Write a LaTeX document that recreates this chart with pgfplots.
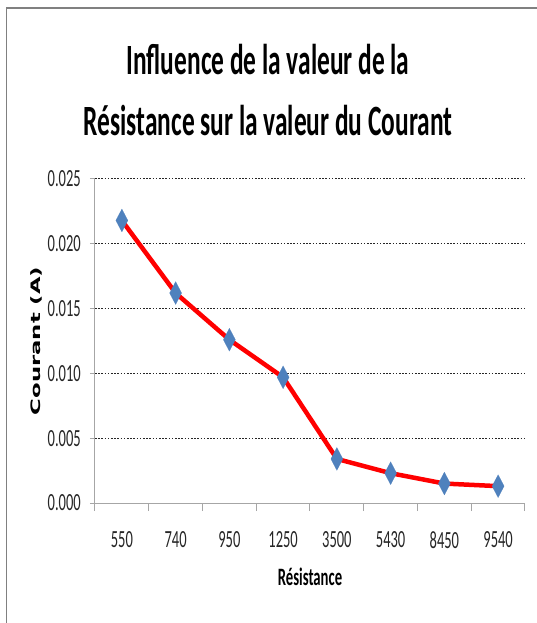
\documentclass[border=0pt]{standalone}
\usepackage{fontspec}
\setmainfont{Carlito}
\newfontfamily\dejavu{DejaVu Sans}
\usepackage{pgfplots}
\pgfplotsset{compat=1.18}
\definecolor{markblue}{HTML}{4F81BD}
\definecolor{axisgray}{HTML}{A6A6A6}
\definecolor{framegray}{HTML}{808080}
\begin{document}
\begin{tikzpicture}
\useasboundingbox (-95pt,-120pt) rectangle (441pt,503pt);
\draw[framegray, line width=1.5pt] (-88.5pt,-121pt) -- (-88.5pt,495pt) -- (442pt,495pt);
\begin{axis}[
  at={(0pt,0pt)}, anchor=south west,
  scale only axis, width=430pt, height=324pt,
  xmin=-0.5, xmax=7.5, ymin=0, ymax=0.025,
  axis lines=left,
  axis line style={-, draw=axisgray, line width=1pt},
  xtick={0,...,7},
  xticklabels={550,740,950,1250,3500,5430,8450,9540},
  minor xtick={-0.5,0.5,1.5,2.5,3.5,4.5,5.5,6.5,7.5},
  major x tick style={draw=none},
  minor x tick style={draw=axisgray, line width=1pt},
  minor tick length=8pt,
  major tick length=5pt,
  tick align=outside,
  ytick={0,0.005,0.01,0.015,0.02,0.025},
  ytick style={draw=axisgray, line width=1pt},
  ymajorgrids,
  grid style={black!85, line width=1pt, dash pattern=on 1.6pt off 1.6pt},
  scaled y ticks=false,
  /pgf/number format/fixed,
  /pgf/number format/fixed zerofill,
  /pgf/number format/precision=3,
  /pgf/number format/assume math mode=true,
  yticklabel style={xshift=-9pt, yscale=1.7, anchor=east, inner sep=0pt,
    font=\fontsize{14.5}{16}\selectfont, text=black!85},
  xticklabel style={yshift=-23pt, yscale=1.7, anchor=north, inner sep=0pt,
    font=\fontsize{14.5}{16}\selectfont, text=black!85},
  xlabel={Résistance},
  xlabel style={at={(axis description cs:0.5,-0.2531)}, anchor=base, inner sep=0pt,
    font=\bfseries\fontsize{14.7}{17}\selectfont, yscale=1.7},
  ylabel={Courant (A)},
  ylabel style={at={(axis description cs:-0.1372,0.5)}, anchor=center, inner sep=0pt,
    font=\dejavu\bfseries\fontsize{13}{15}\selectfont, xscale=1.75},
  title={Influence de la valeur de la\\Résistance sur la valeur du Courant},
  title style={at={(axis description cs:0.4023,1.1142)}, anchor=south, align=center,
    inner sep=0pt, font=\bfseries\upshape\fontsize{25.4}{35.9}\selectfont, yscale=1.7},
]
\addplot[color=red, line width=4.5pt, mark=diamond*, mark size=11.5pt,
  mark options={solid, draw=markblue, fill=markblue, xscale=0.7, line width=0.1pt}]
  coordinates {
    (0,0.0218) (1,0.0162) (2,0.0126) (3,0.0097)
    (4,0.0034) (5,0.0023) (6,0.0015) (7,0.0013)
  };
\end{axis}
\end{tikzpicture}
\end{document}
